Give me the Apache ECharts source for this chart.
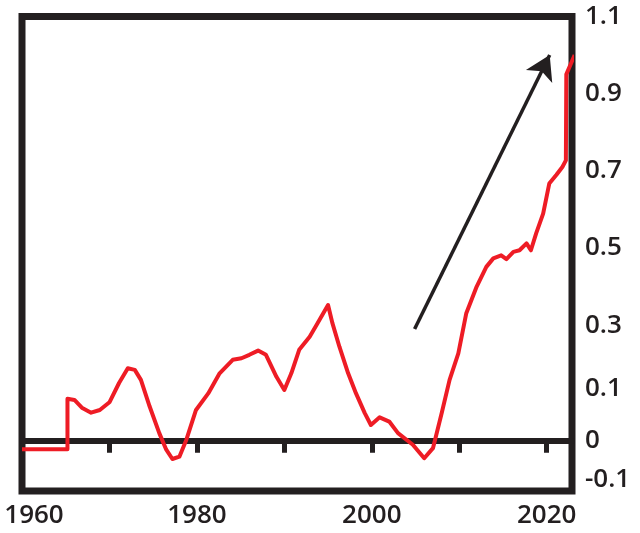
<!DOCTYPE html>
<html>
<head>
    <meta charset="utf-8">
    <title>chart</title>
    <script src="https://cdn.jsdelivr.net/npm/echarts@6.0.0/dist/echarts.min.js"></script>
</head>
<style>
    body {
        margin: 0;
    }

    #main {
        width: 640px;
        height: 533px;
    }
</style>
<body>
<div id="main"></div>
<script type="text/javascript">
    // line: year, value
    var years = [1960.0, 1965.2, 1965.2, 1966.0, 1966.9, 1967.9, 1968.9, 1970.0, 1971.1, 1972.1,
        1972.9, 1973.6, 1974.6, 1975.7, 1976.5, 1977.2, 1978.0, 1978.8, 1979.9, 1981.3,
        1982.6, 1984.1, 1985.1, 1986.0, 1987.0, 1987.9, 1989.1, 1990.0, 1990.8, 1991.7,
        1992.9, 1993.8, 1995.0, 1995.5, 1996.3, 1997.3, 1998.2, 1999.2, 1999.9, 2000.9,
        2002.0, 2003.0, 2004.7, 2006.0, 2007.0, 2008.0, 2008.9, 2009.9, 2010.8, 2012.0,
        2013.1, 2013.9, 2014.8, 2015.4, 2016.2, 2016.9, 2017.7, 2018.2, 2018.8, 2019.6,
        2020.3, 2021.1, 2021.8, 2022.2, 2022.25, 2023.2];
    var values = [-0.022, -0.022, 0.109, 0.106, 0.085, 0.073, 0.080, 0.100, 0.150, 0.188,
        0.184, 0.158, 0.089, 0.020, -0.023, -0.047, -0.041, 0.003, 0.080, 0.123,
        0.175, 0.210, 0.214, 0.223, 0.234, 0.223, 0.166, 0.132, 0.175, 0.236,
        0.270, 0.305, 0.352, 0.305, 0.244, 0.175, 0.123, 0.072, 0.041, 0.061,
        0.050, 0.020, -0.010, -0.045, -0.019, 0.072, 0.158, 0.227, 0.330, 0.400,
        0.451, 0.473, 0.481, 0.471, 0.490, 0.494, 0.512, 0.494, 0.538, 0.589,
        0.667, 0.689, 0.710, 0.727, 0.950, 1.000];

    var yTickLabels = [1.1, 0.9, 0.7, 0.5, 0.3, 0.1, 0, -0.1];
    var xTickYears = [1970, 1980, 1990, 2000, 2010, 2020];
    var xLabelYears = [1960, 1980, 2000, 2020];

    // trend arrow, start and end in (year, value)
    var arrowFrom = [2004.9, 0.29];
    var arrowTo = [2020.35, 1.0];

    var ink = '#231f20';
    var lineData = years.map(function (y, i) {
        return [y, values[i]];
    });

    var chart = echarts.init(document.getElementById('main'));
    chart.setOption({
        animation: false,
        textStyle: {
            fontFamily: 'Open Sans'
        },
        grid: {
            left: 22,
            right: 68,
            top: 16.5,
            bottom: 42,
            show: true,
            borderColor: ink,
            borderWidth: 7,
            backgroundColor: '#fff'
        },
        xAxis: [{
            // zero line with its ticks
            type: 'value',
            min: 1960,
            max: 2022.9,
            axisLine: {
                onZero: true,
                lineStyle: {color: ink, width: 6}
            },
            axisTick: {
                customValues: xTickYears,
                length: 12,
                lineStyle: {color: ink, width: 5}
            },
            axisLabel: {show: false},
            splitLine: {show: false}
        }, {
            // year labels under the box
            type: 'value',
            min: 1960,
            max: 2022.9,
            position: 'bottom',
            axisLine: {show: false, onZero: false},
            axisTick: {show: false},
            splitLine: {show: false},
            axisLabel: {
                customValues: xLabelYears,
                margin: 12,
                fontSize: 26,
                fontWeight: 600,
                color: ink,
                formatter: function (v) {
                    return v === 1960 ? '{first|' + v + '}' : '' + v;
                },
                rich: {
                    first: {fontSize: 26, fontWeight: 600, color: ink, padding: [0, 0, 0, 24]}
                }
            }
        }],
        yAxis: {
            type: 'value',
            position: 'right',
            min: -0.13,
            max: 1.1,
            axisLine: {show: false},
            axisTick: {show: false},
            splitLine: {show: false},
            axisLabel: {
                customValues: yTickLabels,
                margin: 13,
                fontSize: 26,
                fontWeight: 600,
                color: ink,
                formatter: function (v) {
                    var s = (Math.round(v * 10) / 10).toString();
                    return v === 0.1 ? '{up|' + s + '}' : s;
                },
                rich: {
                    up: {fontSize: 26, fontWeight: 600, color: ink, padding: [0, 0, 28, 0]}
                }
            }
        },
        series: [{
            type: 'line',
            xAxisIndex: 0,
            data: lineData,
            showSymbol: false,
            clip: false,
            lineStyle: {color: '#ee1c25', width: 4, join: 'round'},
            markLine: {
                silent: true,
                symbol: ['none', 'arrow'],
                symbolSize: [22, 24],
                label: {show: false},
                lineStyle: {color: ink, width: 3.5, type: 'solid'},
                data: [[{coord: arrowFrom}, {coord: arrowTo}]]
            }
        }]
    });
</script>
</body>
</html>
